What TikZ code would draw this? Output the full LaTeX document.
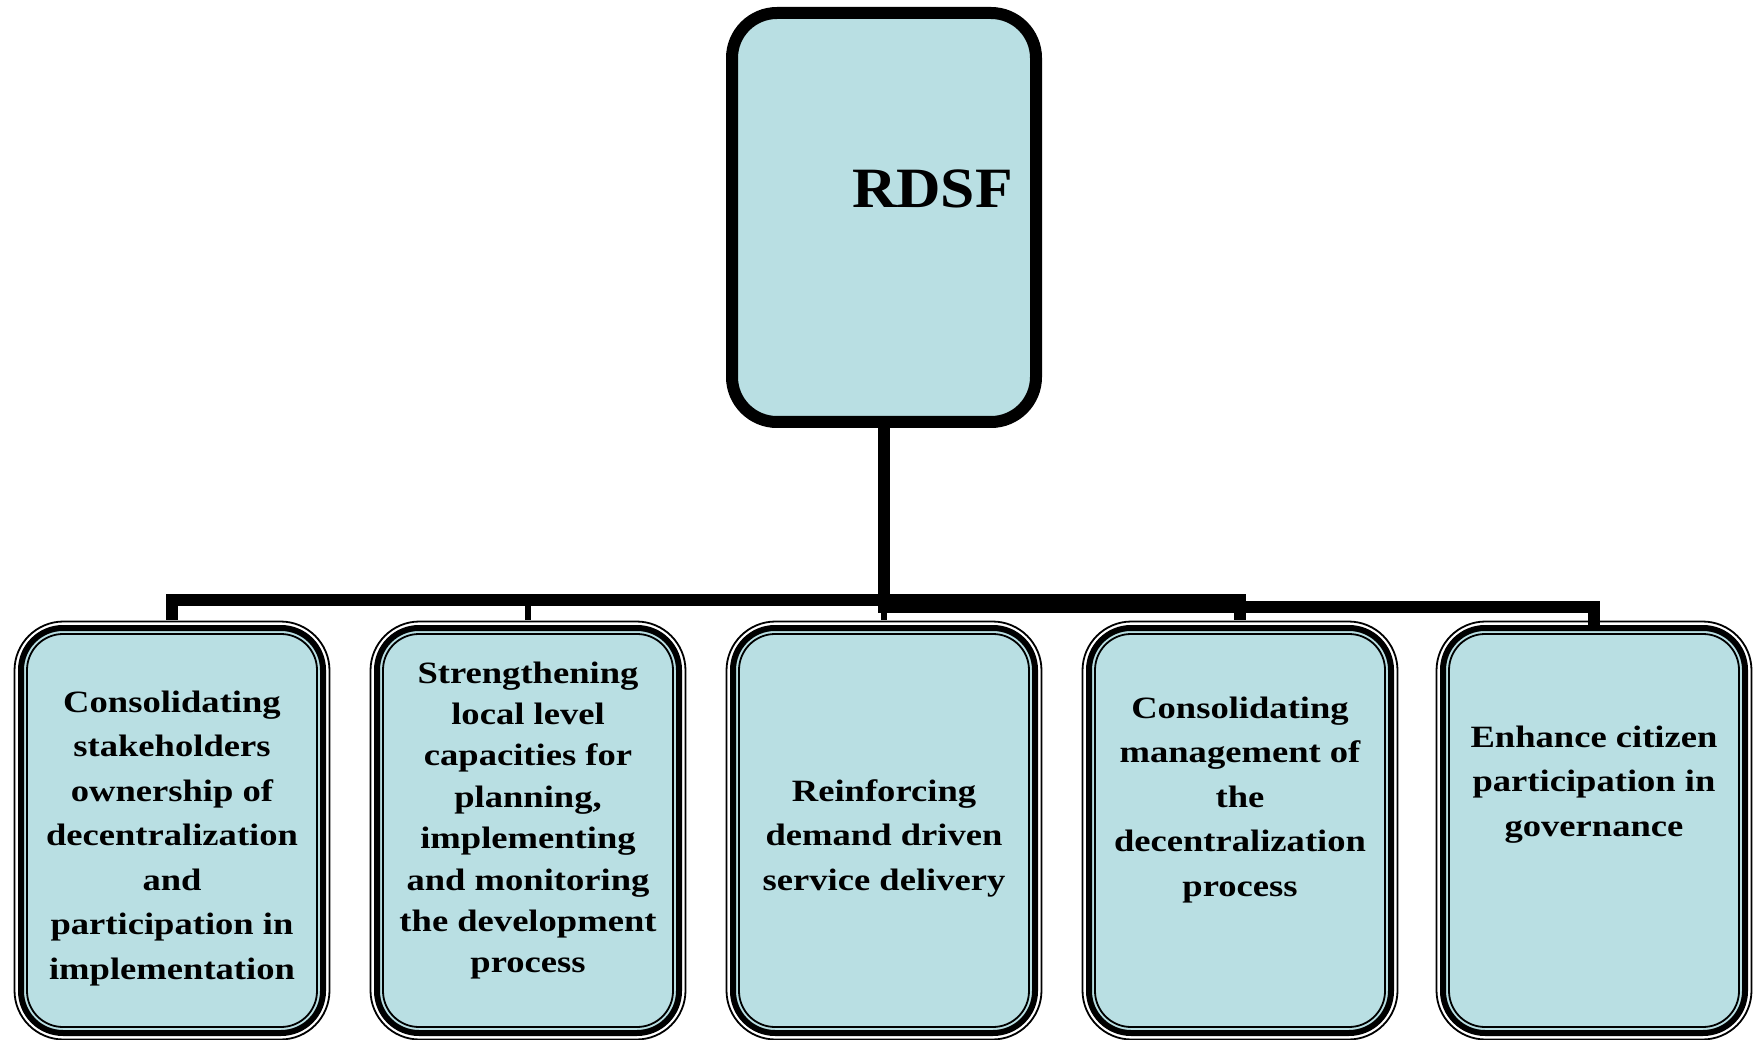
\documentclass[tikz,border=0pt]{standalone}
\usepackage{fontspec}
\newfontfamily\boxfont{Liberation Serif}[FakeStretch=1.18]
\newfontfamily\titlefont{Liberation Serif}[FakeStretch=1.08]
\usetikzlibrary{calc,backgrounds}
\definecolor{boxblue}{RGB}{185,223,227}

\begin{document}
\begin{tikzpicture}[x=1pt,y=-1pt,
  rootbox/.style={draw, line width=12pt, fill=boxblue, rounded corners=45pt,
    minimum width=304pt, minimum height=409pt, outer sep=0pt, inner sep=0pt},
  leafbox/.style={draw, line width=1.8pt, rounded corners=36pt,
    minimum width=290pt, minimum height=393pt, outer sep=0pt, inner sep=0pt},
  leaftext/.style={anchor=north, inner sep=0pt, align=center,
    font=\boxfont\bfseries\fontsize{31}{44.5}\selectfont},
  tighttext/.style={leaftext, font=\boxfont\bfseries\fontsize{31}{41.4}\selectfont},
  bus/.style={line width=12pt},
  stem/.style={line width=5.5pt},
]
\useasboundingbox (0,0) rectangle (1754,1040);

% root box and its title
\node[rootbox] (root) at (884,217.5) {};
\node[anchor=base east, inner sep=0pt,
      font=\titlefont\bfseries\fontsize{57}{60}\selectfont] (rdsf) at (1013,208) {RDSF};

% the five objective boxes (inner hairline of the triple border)
\node[leafbox] (b1) at (172,830.5) {};
\node[leafbox] (b2) at (528,830.5) {};
\node[leafbox] (b3) at (884,830.5) {};
\node[leafbox] (b4) at (1240,830.5) {};
\node[leafbox] (b5) at (1594,830.5) {};

% thick middle ring with fill, and thin outer ring
\begin{scope}[on background layer]
\foreach \n in {b1,b2,b3,b4,b5}{
  \draw[line width=6pt, fill=boxblue, rounded corners=42pt]
    ($(\n.north west)+(-6,-6)$) rectangle ($(\n.south east)+(6,6)$);
  \draw[line width=1.8pt, rounded corners=49pt]
    ($(\n.north west)+(-12.5,-12.5)$) rectangle ($(\n.south east)+(12.5,12.5)$);
}
\end{scope}

% box texts
\node[leaftext] (t1) at ($(b1.north)+(0,46.8)$) {\strut Consolidating\\stakeholders\\ownership of\\decentralization\\and\\participation in\\implementation};
\node[tighttext] (t2) at ($(b2.north)+(0,20)$) {\strut Strengthening\\local level\\capacities for\\planning,\\implementing\\and monitoring\\the development\\process};
\node[leaftext] (t3) at ($(b3.north)+(0,135.8)$) {\strut Reinforcing\\demand driven\\service delivery};
\node[leaftext] (t4) at ($(b4.north)+(0,52.8)$) {\strut Consolidating\\management of\\the\\decentralization\\process};
\node[leaftext] (t5) at ($(b5.north)+(0,81.8)$) {\strut Enhance citizen\\participation in\\governance};

% connector end points
\coordinate (j1) at (884,600);
\coordinate (j2) at (884,607);
\coordinate (b1top) at ($(b1.north)+(0,-14)$);
\coordinate (b2top) at ($(b2.north)+(0,-14)$);
\coordinate (b3top) at ($(b3.north)+(0,-14)$);
\coordinate (b4top) at ($(b4.north)+(0,-14)$);
\coordinate (b5top) at ($(b5.north)+(0,-9)$);

% connectors
\draw[bus] (root.south) -- (j1) -| (b1top);
\draw[bus] (root.south) -- (j1) -| (b4top);
\draw[bus] (root.south) -- (j2) -| (b5top);
\draw[stem] (b2top) -- ++(0,-14);
\draw[stem] (b3top) -- ++(0,-8);
\end{tikzpicture}
\end{document}
